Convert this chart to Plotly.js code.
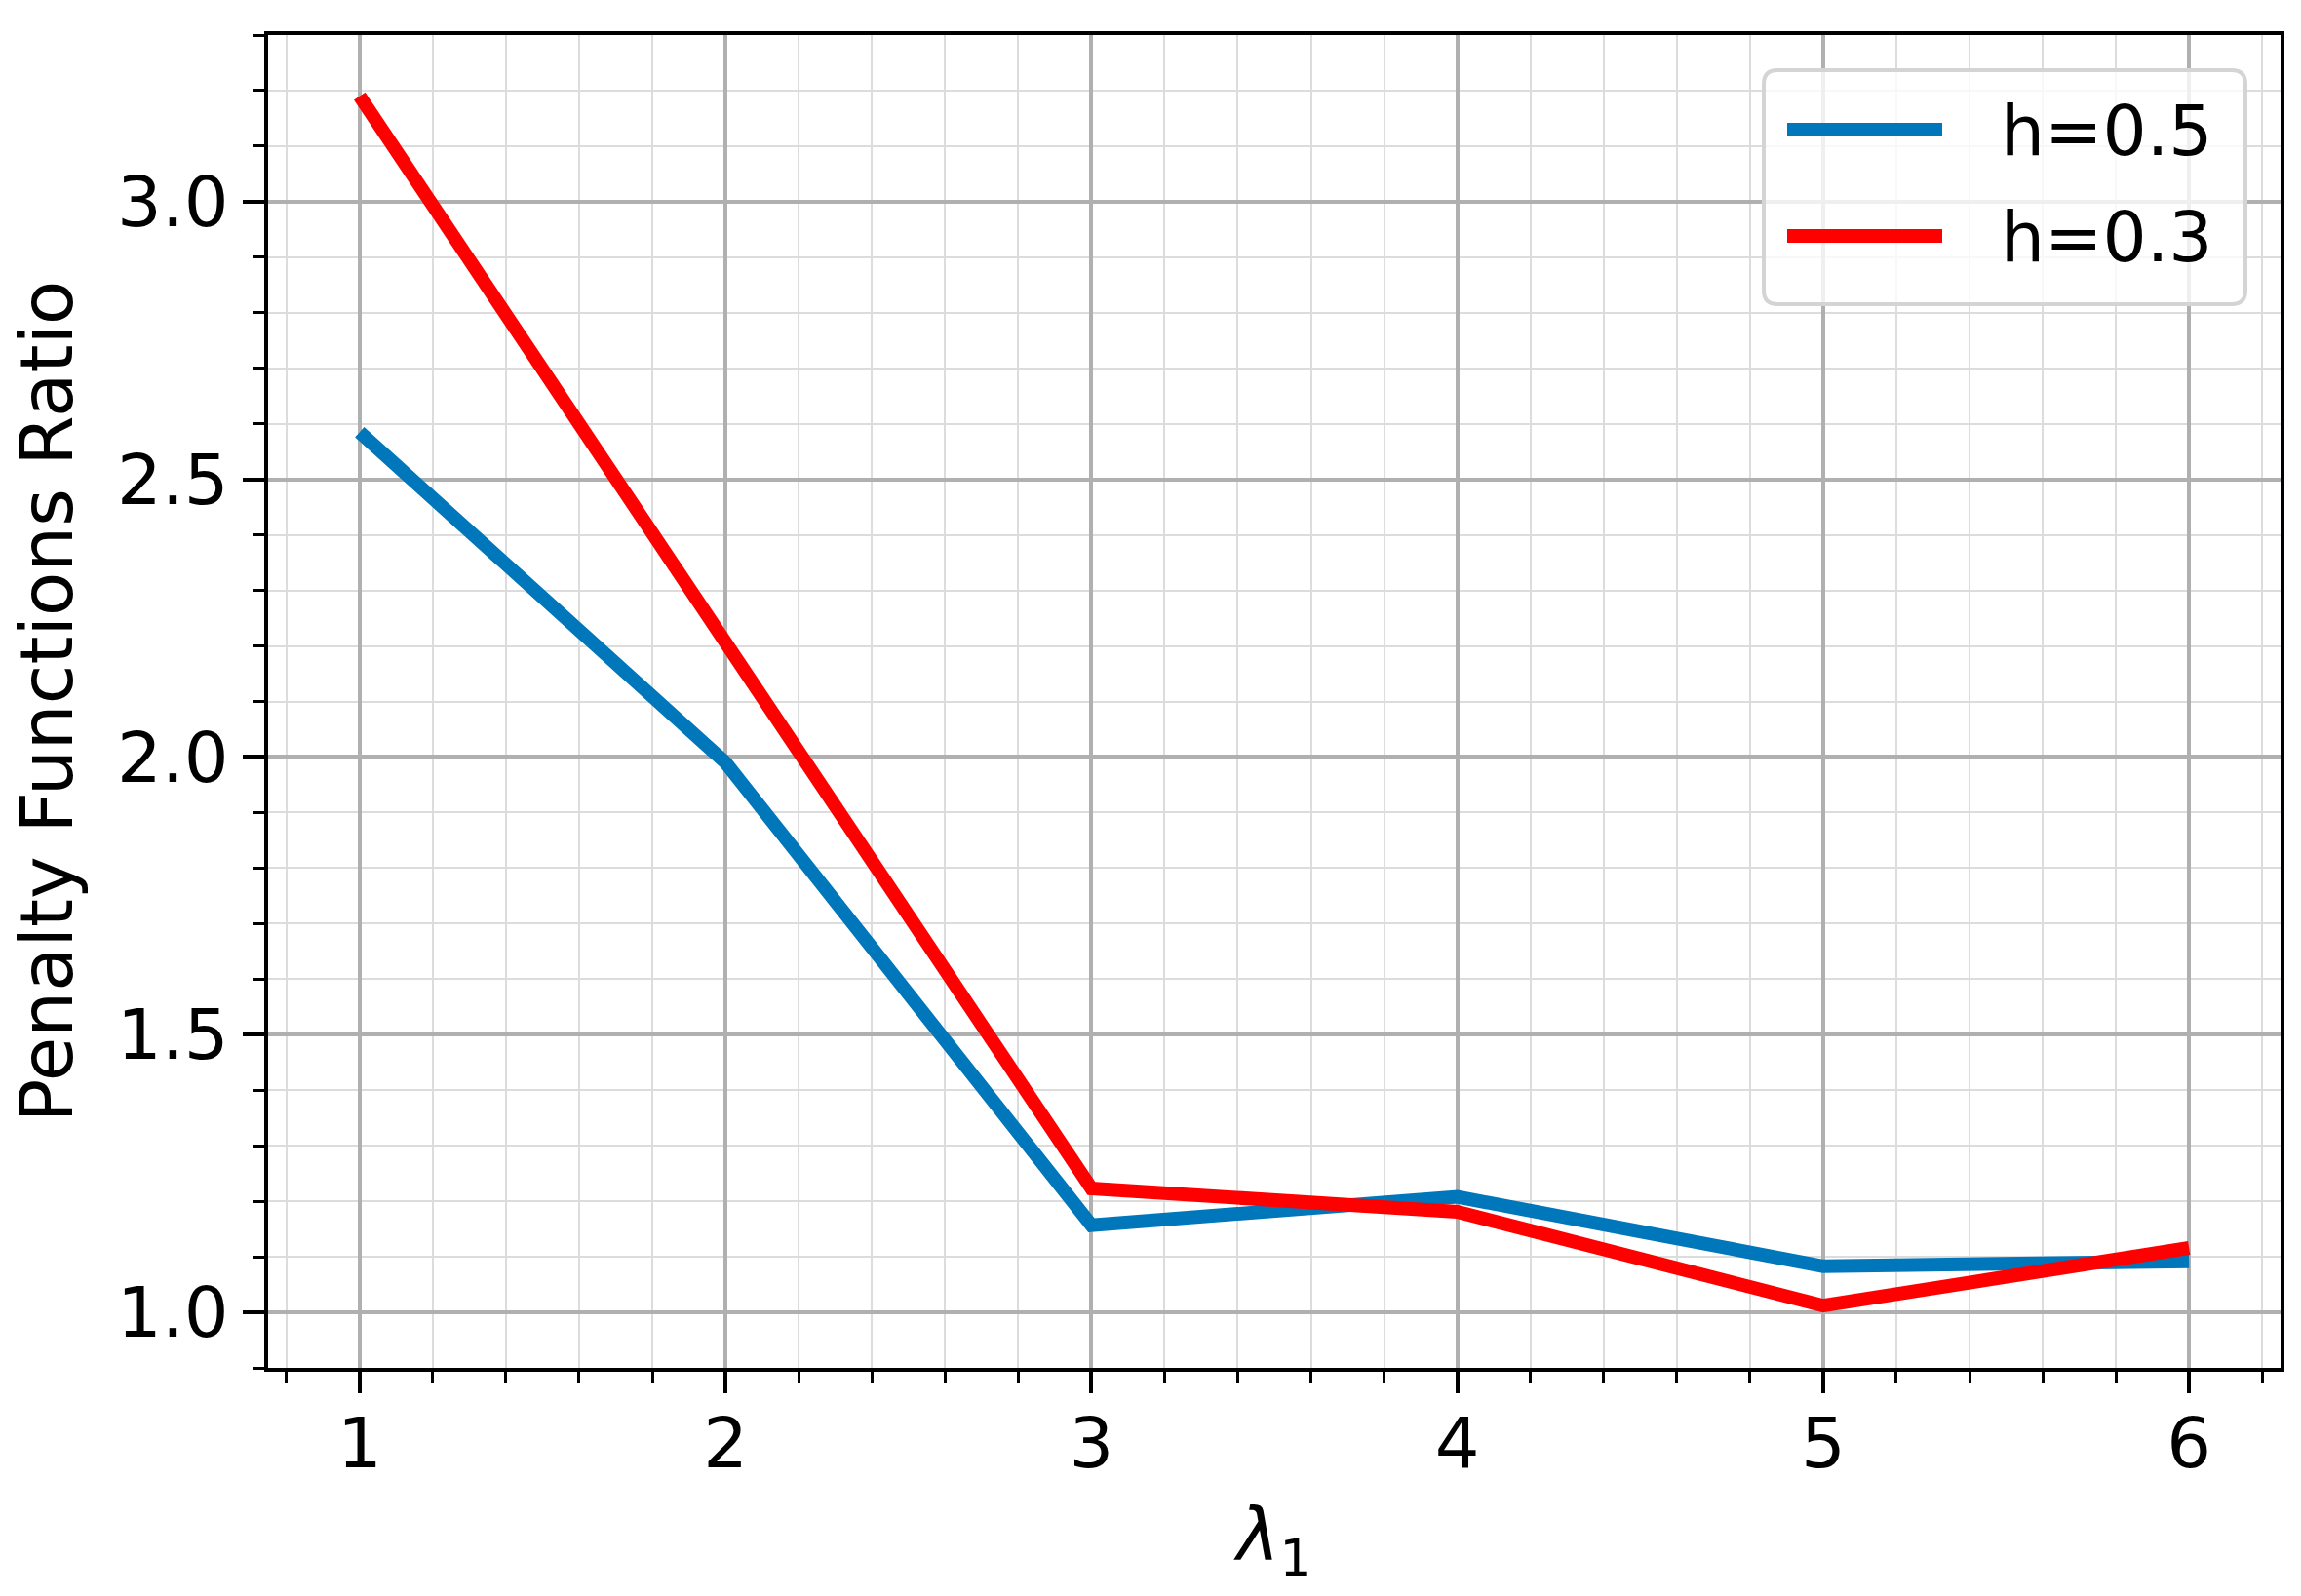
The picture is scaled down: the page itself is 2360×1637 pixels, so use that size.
<!DOCTYPE html>
<html>
<head>
<meta charset="utf-8">
<script src="https://cdn.plot.ly/plotly-3.0.1.min.js"></script>
<style>
  html, body { margin: 0; padding: 0; background: #fff; }
  #graph { width: 2360px; height: 1637px; }
</style>
</head>
<body>
<div id="graph"></div>
<script>
// Data
const lambda1 = [1, 2, 3, 4, 5, 6];
const ratioH05 = [2.585, 1.99, 1.157, 1.208, 1.083, 1.092];
const ratioH03 = [3.19, 2.205, 1.223, 1.181, 1.012, 1.116];
const seriesNames = ['h=0.5', 'h=0.3'];
const seriesColors = ['#0077bb', '#ff0000'];

const font = 'DejaVu Sans, sans-serif';
const lineW = 14;

const traces = [ratioH05, ratioH03].map((ys, i) => ({
    x: lambda1,
    y: ys,
    mode: 'lines',
    type: 'scatter',
    name: seriesNames[i],
    line: { color: seriesColors[i], width: lineW }
}));

// legend drawn by hand (matplotlib style: long samples, rounded frame)
const mL = 275, mR = 21, mT = 36, mB = 234;
const plotW = 2360 - mL - mR, plotH = 1637 - mT - mB;
const px = v => (v - mL) / plotW;
const py = v => (1637 - mB - v) / plotH;

const lx0 = px(1809), lx1 = px(2303), ly0 = py(312), ly1 = py(72);
const rx = 14 / plotW, ry = 14 / plotH;
const framePath =
    `M${lx0 + rx},${ly1} L${lx1 - rx},${ly1} Q${lx1},${ly1} ${lx1},${ly1 - ry} ` +
    `L${lx1},${ly0 + ry} Q${lx1},${ly0} ${lx1 - rx},${ly0} L${lx0 + rx},${ly0} ` +
    `Q${lx0},${ly0} ${lx0},${ly0 + ry} L${lx0},${ly1 - ry} Q${lx0},${ly1} ${lx0 + rx},${ly1} Z`;

const legendRows = [133, 242];
const legendShapes = [{
    type: 'path', xref: 'paper', yref: 'paper', path: framePath,
    fillcolor: 'rgba(255,255,255,0.8)',
    line: { color: '#d4d4d4', width: 4 },
    layer: 'above'
}];
const legendTexts = [];
seriesNames.forEach((name, i) => {
    legendShapes.push({
        type: 'line', xref: 'paper', yref: 'paper', layer: 'above',
        x0: px(1833), x1: px(1992), y0: py(legendRows[i]), y1: py(legendRows[i]),
        line: { color: seriesColors[i], width: lineW }
    });
    legendTexts.push({
        xref: 'paper', yref: 'paper', x: px(2050), y: py(legendRows[i] + 2),
        xanchor: 'left', yanchor: 'middle', showarrow: false,
        text: name, font: { family: font, size: 71, color: 'black' }
    });
});

const axisCommon = {
    showline: true,
    mirror: true,
    linecolor: 'black',
    linewidth: 4,
    ticks: 'outside',
    ticklen: 22,
    tickwidth: 4,
    tickcolor: 'black',
    showgrid: true,
    gridcolor: '#b0b0b0',
    gridwidth: 4,
    zeroline: false,
    tickfont: { family: font, size: 72, color: 'black' }
};

const layout = {
    width: 2360,
    height: 1637,
    margin: { l: mL, r: mR, t: mT, b: mB },
    paper_bgcolor: 'white',
    plot_bgcolor: 'white',
    font: { family: font, color: 'black' },
    showlegend: false,
    xaxis: Object.assign({}, axisCommon, {
        range: [0.75, 6.25],
        tick0: 0,
        dtick: 1,
        ticklabelstandoff: -10,
        minor: { tick0: 0, dtick: 0.2, showgrid: true, gridcolor: '#dcdcdc', gridwidth: 2,
                 ticks: 'outside', ticklen: 12, tickwidth: 3, tickcolor: 'black' },
        title: { text: '<i>λ</i><sub>1</sub>', font: { family: font, size: 74 }, standoff: 28 }
    }),
    yaxis: Object.assign({}, axisCommon, {
        range: [0.9, 3.3],
        tick0: 0,
        dtick: 0.5,
        tickformat: '.1f',
        minor: { tick0: 0, dtick: 0.1, showgrid: true, gridcolor: '#dcdcdc', gridwidth: 2,
                 ticks: 'outside', ticklen: 12, tickwidth: 3, tickcolor: 'black' },
        title: { text: 'Penalty Functions Ratio', font: { family: font, size: 74 }, standoff: 22 }
    }),
    shapes: legendShapes,
    annotations: legendTexts
};

Plotly.newPlot('graph', traces, layout, { staticPlot: true });
</script>
</body>
</html>
